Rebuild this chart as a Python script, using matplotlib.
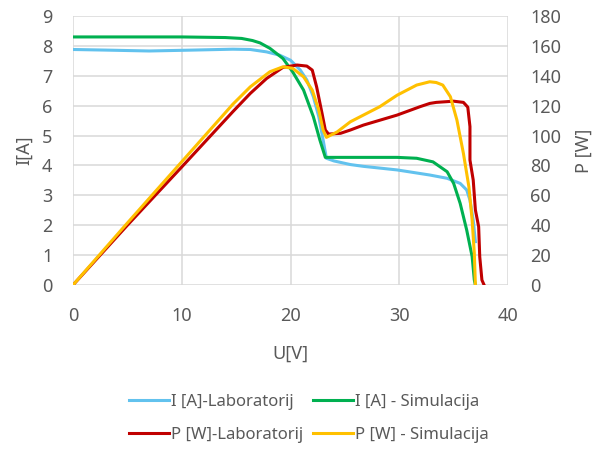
import matplotlib
matplotlib.use('Agg')
import matplotlib.pyplot as plt

plt.rcParams['font.family'] = ['Noto Sans', 'DejaVu Sans']

# current vs voltage, lab measurement
u_i_lab = [0, 3, 7, 11, 14.7, 16.3, 17.8, 19.0, 20.0, 20.9, 21.5, 22.1, 22.6, 23.0, 23.3,
           24.0, 25.5, 26.7, 29.8, 32.8, 34.4, 35.6, 36.2, 36.5, 36.8, 37.0]
i_lab = [7.88, 7.86, 7.83, 7.86, 7.89, 7.88, 7.80, 7.69, 7.52, 7.19, 6.86, 6.30, 5.63, 4.85, 4.24,
         4.15, 4.03, 3.97, 3.85, 3.68, 3.57, 3.40, 3.18, 2.84, 2.17, 1.45]

# current vs voltage, simulation
u_i_sim = [0, 5, 10, 14, 15.5, 16.5, 17.2, 18.1, 19.3, 20.2, 21.2, 22.1, 22.7, 23.2,
           26.0, 29.8, 31.6, 33.1, 34.4, 35.0, 35.6, 36.2, 36.7, 36.9, 37.0]
i_sim = [8.30, 8.30, 8.30, 8.28, 8.25, 8.18, 8.10, 7.92, 7.58, 7.13, 6.52, 5.63, 4.85, 4.27,
         4.27, 4.27, 4.24, 4.12, 3.79, 3.40, 2.73, 1.84, 0.95, 0.17, 0.0]

# power vs voltage, lab measurement
u_p_lab = [0, 5, 10, 14.7, 16.3, 17.8, 19.3, 20.6, 21.5, 22.0, 22.4, 22.9, 23.2, 23.5,
           24.6, 25.5, 26.7, 29.8, 31.9, 32.8, 33.4, 35.0, 35.9, 36.3, 36.5, 36.5,
           36.8, 37.0, 37.3, 37.4, 37.6, 37.8]
p_lab = [0, 40, 79, 116, 128.2, 138.2, 145.6, 147.2, 146.5, 143.8, 132.6, 114.8, 103.7, 101.0,
         101.5, 103.7, 107.0, 113.7, 119.3, 121.5, 122.2, 123.0, 122.2, 119.0, 106.0, 83.6,
         70.2, 50.2, 39.0, 18.9, 3.3, 0]

# power vs voltage, simulation
u_p_sim = [0, 5, 10, 14.7, 16.3, 18.1, 19.3, 20.2, 21.2, 22.0, 22.6, 23.0, 23.3,
           24.3, 25.5, 26.7, 28.2, 29.8, 31.6, 32.8, 33.4, 34.0, 34.7, 35.3, 35.9,
           36.4, 36.7, 36.9, 37.0]
p_sim = [0, 41.5, 82.5, 121, 132.6, 142.7, 146.0, 145.0, 139.3, 130.4, 117.0, 103.7, 98.8,
         102.5, 109.2, 113.7, 119.3, 127.0, 133.8, 136.0, 135.5, 133.8, 126.0, 110.4, 88.0,
         65.8, 43.5, 21.2, 0]

txt = '#595959'
grid = '#d9d9d9'

fig = plt.figure(figsize=(6, 4.5), dpi=100)
ax = fig.add_axes([0.1217, 0.3667, 0.725, 0.5977])
ax2 = ax.twinx()

l1, = ax.plot(u_i_lab, i_lab, color='#62c2ee', lw=2.2, label='I [A]-Laboratorij')
l2, = ax.plot(u_i_sim, i_sim, color='#00b050', lw=2.2, label='I [A] - Simulacija')
l3, = ax2.plot(u_p_lab, p_lab, color='#c00000', lw=2.2, label='P [W]-Laboratorij')
l4, = ax2.plot(u_p_sim, p_sim, color='#ffc000', lw=2.2, label='P [W] - Simulacija')

ax.set_xlim(0, 40)
ax.set_ylim(0, 9)
ax2.set_ylim(0, 180)
ax.set_xticks(range(0, 41, 10))
ax.set_yticks(range(0, 10))
ax2.set_yticks(range(0, 181, 20))

ax.grid(True, color=grid, lw=1.1)
ax.set_axisbelow(True)
for a in (ax, ax2):
    for s in a.spines.values():
        s.set_visible(False)
ax.tick_params(axis='both', length=0, labelsize=13, labelcolor=txt)
ax.tick_params(axis='x', pad=16)
ax.tick_params(axis='y', pad=15)
ax2.tick_params(axis='y', length=0, labelsize=13, labelcolor=txt, pad=16)

ax.set_xlabel('U[V]', fontsize=13, color=txt, labelpad=14)
ax.set_ylabel('I[A]', fontsize=13, color=txt, labelpad=6)
ax2.set_ylabel('P [W]', fontsize=13, color=txt, labelpad=10)

fig.legend(handles=[l1, l3, l2, l4], loc='center', bbox_to_anchor=(0.515, 0.07),
           ncol=2, frameon=False, fontsize=12, labelcolor=txt,
           handlelength=2.4, handletextpad=0.1, columnspacing=0.6, labelspacing=1.05)

fig.savefig('out.png', dpi=100)
